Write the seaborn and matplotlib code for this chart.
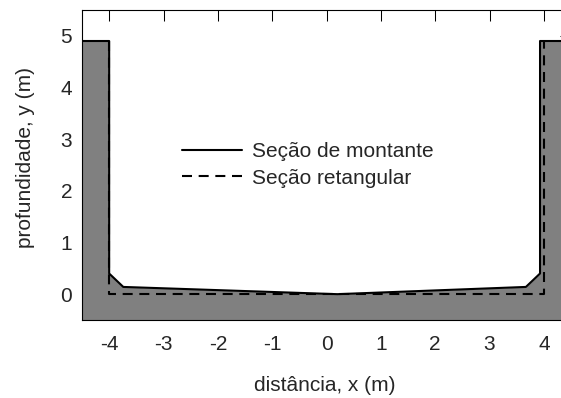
import matplotlib
matplotlib.use("Agg")
import matplotlib.pyplot as plt
import seaborn as sns

# Cross-section of the channel (upstream survey) and the equivalent rectangular section
x_montante = [-4.5, -4.0, -4.0, -3.74, 0.2, 3.67, 3.93, 3.93, 4.5]
y_montante = [4.9, 4.9, 0.40, 0.14, 0.0, 0.14, 0.40, 4.9, 4.9]

x_retangular = [-4.0, -4.0, 4.0, 4.0]
y_retangular = [4.9, 0.0, 0.0, 4.9]

x_ticks = [-4, -3, -2, -1, 0, 1, 2, 3, 4]
y_ticks = [0, 1, 2, 3, 4, 5]

sns.set_style("white")
plt.rcParams["font.family"] = ["Liberation Sans", "DejaVu Sans"]
plt.rcParams["font.size"] = 15

fig = plt.figure(figsize=(5.61, 3.98), dpi=100)
ax = fig.add_axes([82 / 561, 78 / 398, 489 / 561, 310 / 398])

# ground / walls below the surveyed section
ax.fill_between(x_montante, y_montante, -0.5, color="#808080", lw=0, zorder=1)

sns.lineplot(x=x_montante, y=y_montante, sort=False, estimator=None, ax=ax,
             color="black", lw=1.5, label="Seção de montante", zorder=3)
sns.lineplot(x=x_retangular, y=y_retangular, sort=False, estimator=None, ax=ax,
             color="black", lw=1.5, label="Seção retangular", zorder=3)
ax.lines[-1].set_linestyle((0, (4.8, 3.2)))

ax.set_xlim(-4.5, 4.5)
ax.set_ylim(-0.5, 5.5)
ax.set_xticks(x_ticks)
ax.set_yticks(y_ticks)
ax.set_xticklabels([str(v) for v in x_ticks])
ax.set_yticklabels([str(v) for v in y_ticks])
ax.set_axisbelow(True)
ax.tick_params(direction="in", length=7.9, width=0.75, color="black",
               top=True, right=True, labelsize=15)
ax.tick_params(axis="x", pad=10.5)
ax.tick_params(axis="y", pad=7)
for s in ax.spines.values():
    s.set_color("black")
    s.set_linewidth(0.8)
    s.set_zorder(4)

ax.set_xlabel("distância, x (m)", fontsize=15)
ax.set_ylabel("profundidade, y (m)", fontsize=15)
ax.xaxis.set_label_coords(0.496, -0.18)
ax.yaxis.set_label_coords(-0.096, 0.5226)

leg = ax.legend(loc="center left", bbox_to_anchor=(182 / 561, (398 - 165) / 398),
                bbox_transform=fig.transFigure, frameon=False, borderpad=0,
                handlelength=2.86, handletextpad=0.52, labelspacing=0.34,
                fontsize=15, borderaxespad=0)

fig.savefig("out.png", dpi=100)
